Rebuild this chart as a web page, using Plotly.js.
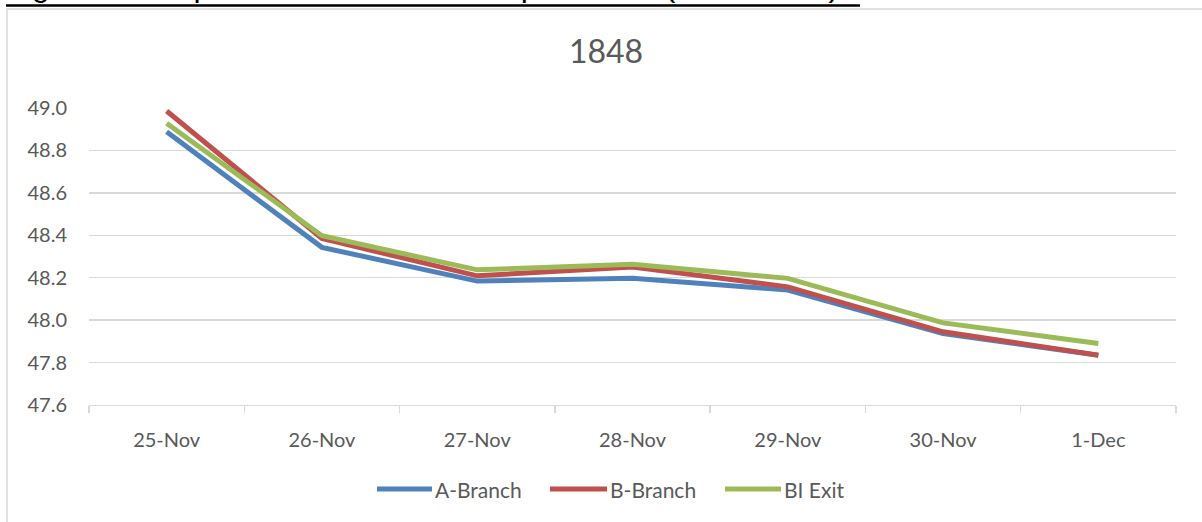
<!DOCTYPE html>
<html>
<head>
<meta charset="utf-8">
<script src="https://cdn.plot.ly/plotly-3.0.1.min.js"></script>
<style>html,body{margin:0;padding:0;background:#fff;}#chart{width:1202px;height:522px;}</style>
</head>
<body>
<div id="chart"></div>
<script>
// ---- data ----
var chartTitle = "1848";
var captionText = "Figure 4. Graph of normal water temperatures (Fahrenheit).";
var dates = ["25-Nov", "26-Nov", "27-Nov", "28-Nov", "29-Nov", "30-Nov", "1-Dec"];
var seriesNames = ["A-Branch", "B-Branch", "BI Exit"];
var aBranch = [48.888, 48.343, 48.184, 48.197, 48.142, 47.937, 47.835];
var bBranch = [48.986, 48.385, 48.209, 48.251, 48.157, 47.945, 47.835];
var biExit  = [48.928, 48.398, 48.237, 48.264, 48.197, 47.987, 47.890];
var yTicks = [47.6, 47.8, 48.0, 48.2, 48.4, 48.6, 48.8, 49.0];

// ---- layout geometry ----
var W = 1202, H = 522;
var ml = 89, mr = 26, mt = 108, mb = 117;
var pw = W - ml - mr, ph = H - mt - mb;
function px2x(px) { return (px - ml) / pw; }
function px2y(py) { return (H - mb - py) / ph; }

var colors = ["#4F81BD", "#C0504D", "#9BBB59"];
var textColor = "#595959";
var gridColor = "#D9D9D9";
var allSeries = [aBranch, bBranch, biExit];

var traces = allSeries.map(function (vals, i) {
  return {
    type: "scatter", mode: "lines", x: dates, y: vals, name: seriesNames[i],
    line: { color: colors[i], width: 5 }, showlegend: false, hoverinfo: "x+y+name"
  };
});

// custom legend
var legendY = px2y(489);
var legendItems = [[377, 432, 433], [550, 607, 608], [725, 781, 782]];
var shapes = [];
var annotations = [];
legendItems.forEach(function (it, i) {
  shapes.push({ type: "line", xref: "paper", yref: "paper",
    x0: px2x(it[0]), x1: px2x(it[1]), y0: legendY, y1: legendY,
    line: { color: colors[i], width: 5 } });
  annotations.push({ xref: "paper", yref: "paper", x: px2x(it[2]), y: legendY,
    xanchor: "left", yanchor: "middle", showarrow: false, text: seriesNames[i],
    font: { family: "Lato, 'Open Sans', sans-serif", size: 21, color: textColor } });
});

// chart border
shapes.push({ type: "rect", xref: "paper", yref: "paper",
  x0: px2x(7), x1: px2x(1230), y0: px2y(540), y1: px2y(9),
  line: { color: gridColor, width: 1.5 }, fillcolor: "rgba(0,0,0,0)" });
// caption underline
shapes.push({ type: "line", xref: "paper", yref: "paper",
  x0: px2x(6), x1: px2x(860), y0: px2y(5.5), y1: px2y(5.5),
  line: { color: "#000000", width: 2.5 } });
annotations.push({ xref: "paper", yref: "paper", x: px2x(3), y: px2y(5),
  xanchor: "left", yanchor: "bottom", showarrow: false, text: captionText,
  font: { family: "'Liberation Sans', Arial, sans-serif", size: 32, color: "#000000" } });

var layout = {
  width: W, height: H,
  margin: { l: ml, r: mr, t: mt, b: mb, pad: 0 },
  paper_bgcolor: "#ffffff", plot_bgcolor: "#ffffff",
  showlegend: false,
  title: { text: chartTitle, xref: "container", x: 606 / W, yref: "container", y: 1 - 52 / H,
    xanchor: "center", yanchor: "middle",
    font: { family: "Lato, 'Open Sans', sans-serif", size: 32, color: textColor } },
  xaxis: {
    type: "category", range: [-0.5, dates.length - 0.5], tickson: "boundaries",
    ticks: "outside", ticklen: 7,
    tickcolor: gridColor, tickwidth: 1.3, showline: true, linecolor: gridColor, linewidth: 1.3,
    showgrid: false, zeroline: false, ticklabelstandoff: 17,
    tickfont: { family: "Lato, 'Open Sans', sans-serif", size: 20, color: textColor }
  },
  yaxis: {
    range: [47.6, 49.0], tickvals: yTicks, tickformat: ".1f", ticks: "",
    showgrid: true, gridcolor: gridColor, gridwidth: 1.3, zeroline: false, showline: false,
    ticklabelstandoff: 21,
    tickfont: { family: "Lato, 'Open Sans', sans-serif", size: 20, color: textColor }
  },
  shapes: shapes,
  annotations: annotations
};

Plotly.newPlot("chart", traces, layout, { displayModeBar: false, staticPlot: true });
</script>
</body>
</html>
